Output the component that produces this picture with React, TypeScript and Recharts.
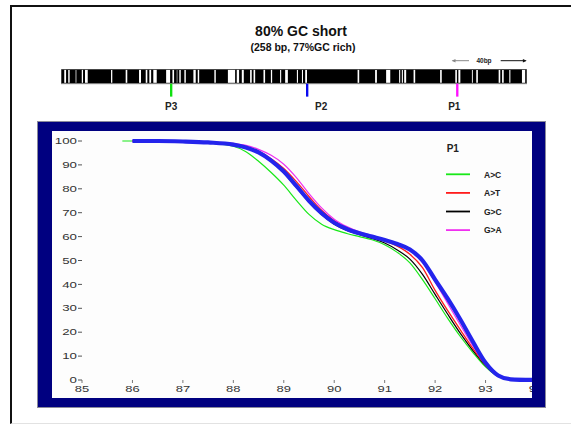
import React from 'react';
import {
  LineChart,
  Line,
  XAxis,
  YAxis,
  ComposedChart,
  ReferenceArea,
} from 'recharts';

// ---------- melting-curve data ----------
const temps = [85.8, 86, 86.5, 87, 87.5, 88, 88.25, 88.5, 88.75, 89, 89.25, 89.5, 89.75, 90, 90.25, 90.5, 90.75, 91, 91.25, 91.5, 91.75, 92, 92.25, 92.5, 92.75, 93, 93.25, 93.5, 94];
const greenAC = [100, 100, 100, 99.6, 99.1, 97.8, 95.5, 91.5, 86.8, 81.5, 75.2, 69.3, 65.2, 62.9, 61.3, 60.0, 58.7, 56.6, 53.4, 49.0, 42.0, 34.0, 25.8, 18.2, 11.5, 5.5, 1.5, 0.3, 0];
const redAT = [null, 100, 100, 99.8, 99.5, 98.8, 97.8, 95.8, 92.6, 88.5, 83.0, 76.8, 71.0, 66.6, 63.6, 61.5, 59.9, 58.2, 56.0, 52.6, 47.0, 37.5, 29.0, 21.0, 13.2, 6.3, 1.8, 0.3, 0];
const blackGC = [null, 100, 100, 99.8, 99.4, 98.5, 97.2, 95.0, 91.4, 86.6, 80.6, 74.4, 69.2, 65.2, 62.6, 60.8, 59.2, 57.3, 54.4, 50.6, 44.2, 35.8, 27.5, 19.5, 12.3, 6.0, 1.6, 0.3, 0];
const magentaGA = [null, 100, 100, 99.8, 99.6, 99.0, 98.2, 96.5, 94.0, 90.3, 84.7, 78.0, 72.0, 67.3, 64.2, 62.0, 60.4, 58.9, 57.0, 54.2, 49.2, 41.0, 32.0, 23.0, 14.2, 6.6, 1.8, 0.3, 0];
const blueWT = [null, 100, 100, 99.8, 99.4, 98.5, 97.3, 95.2, 91.8, 87.2, 81.2, 75.0, 69.8, 65.8, 63.2, 61.4, 60.0, 58.6, 56.9, 54.6, 50.0, 42.0, 34.0, 25.3, 16.0, 7.2, 1.9, 0.3, 0];

const xTicks = [85, 86, 87, 88, 89, 90, 91, 92, 93, 94];
const yTicks = [0, 10, 20, 30, 40, 50, 60, 70, 80, 90, 100];

const legendTitle = 'P1';
const legendItems = [
  { key: 'ac', name: 'A>C', color: '#18e818' },
  { key: 'at', name: 'A>T', color: '#ff1c1c' },
  { key: 'gc', name: 'G>C', color: '#000000' },
  { key: 'ga', name: 'G>A', color: '#f030f0' },
];

// ---------- sequence map data (bp) ----------
const seqLength = 258;
const stripes: [number, number][] = [
  [1.8, 2.8], [4.0, 4.8], [8.1, 8.5], [11.5, 12.2], [13.3, 14.8], [27.7, 28.4], [35.8, 36.7],
  [43.2, 44.3], [46.9, 47.8], [48.9, 49.9], [51.1, 53.0], [58.2, 60.4], [61.7, 62.6], [64.1, 64.4],
  [65.5, 66.3], [68.3, 69.1], [73.3, 74.6], [75.7, 76.5], [84.9, 85.7], [92.4, 96.4], [97.3, 98.6],
  [100.1, 101.2], [104.7, 105.6], [106.6, 107.5], [112.1, 113.0], [116.2, 116.9], [121.3, 121.9],
  [124.1, 125.6], [130.6, 131.2], [133.4, 134.0], [135.2, 136.2], [164.2, 165.1], [173.9, 174.9],
  [180.0, 182.3], [187.2, 187.8], [188.7, 189.3], [190.0, 191.1], [195.2, 196.1], [209.9, 210.8],
  [218.3, 219.2], [220.0, 221.1], [227.5, 228.0], [229.9, 230.8], [242.3, 243.2], [244.2, 245.1],
  [248.2, 248.8], [255.2, 257.0],
];
const primerNames = ['P3', 'P2', 'P1'];
const primerPositions = [61.0, 136.3, 219.4];
const primerColors = ['#10e010', '#0a0af0', '#ff10ff'];
const primerLabelDx = [0, 14, -3];

const title = '80% GC short';
const subtitle = '(258 bp, 77%GC rich)';
const scaleLabel = '40bp';

const data = temps.map((t, i) => ({
  temp: t,
  ac: greenAC[i],
  at: redAT[i],
  gc: blackGC[i],
  ga: magentaGA[i],
  wt: blueWT[i],
}));

const mapData = primerPositions.map((p) => ({ pos: p }));

const FONT = '"Liberation Sans", Arial, Helvetica, sans-serif';

const XTick = (props: any) => {
  const { x, y, payload } = props;
  const s = String(payload.value);
  return (
    <text x={x} y={y} dy="0.71em" textAnchor="middle" fontSize={9} fontFamily={FONT} fill="#333"
      textLength={s.length * 7.2} lengthAdjust="spacingAndGlyphs">{s}</text>
  );
};

const YTick = (props: any) => {
  const { x, y, payload } = props;
  const s = String(payload.value);
  return (
    <text x={x} y={y} dy="0.355em" textAnchor="end" fontSize={9} fontFamily={FONT} fill="#333"
      textLength={s.length * 7.4} lengthAdjust="spacingAndGlyphs">{s}</text>
  );
};

export default function App() {
  return (
    <div style={{ position: 'absolute', left: 0, top: 0, width: 571, height: 425, background: '#fff', overflow: 'hidden', fontFamily: FONT }}>
      {/* outer frame */}
      <div style={{ position: 'absolute', left: 10, top: 5, width: 580, height: 416, borderTop: '2px solid #111', borderLeft: '2px solid #111', borderBottom: '1px solid #e2e2e2' }} />

      {/* titles */}
      <div style={{ position: 'absolute', left: 201, top: 23, width: 200, textAlign: 'center', fontSize: 14, fontWeight: 'bold', color: '#111', lineHeight: '16px' }}>{title}</div>
      <div style={{ position: 'absolute', left: 203, top: 41, width: 200, textAlign: 'center', fontSize: 10.5, fontWeight: 'bold', color: '#111', lineHeight: '12px' }}>{subtitle}</div>

      {/* 40bp scale arrows */}
      <svg style={{ position: 'absolute', left: 445, top: 54 }} width={90} height={14}>
        <line x1={7.5} y1={6.7} x2={24} y2={6.7} stroke="#888" strokeWidth={1} />
        <path d="M6.7,6.7 L10.5,5 L10.5,8.4 Z" fill="#888" />
        <text x={39} y={9} textAnchor="middle" fontSize={6.5} fontWeight="bold" fontFamily={FONT} fill="#222">{scaleLabel}</text>
        <line x1={55.7} y1={6.7} x2={80.5} y2={6.7} stroke="#111" strokeWidth={1} />
        <path d="M81.7,6.7 L77.9,5 L77.9,8.4 Z" fill="#111" />
      </svg>

      {/* sequence map */}
      <div style={{ position: 'absolute', left: 61, top: 69 }}>
        <ComposedChart width={466} height={46} data={mapData} margin={{ top: 0, right: 0, bottom: 0, left: 0 }}>
          <XAxis dataKey="pos" type="number" domain={[0, seqLength]} hide height={0} allowDataOverflow />
          <YAxis type="number" domain={[-2.13, 1]} hide width={0} allowDataOverflow />
          <ReferenceArea x1={0} x2={seqLength} y1={0} y2={1} fill="#000" fillOpacity={1} stroke="#8a8a8a" strokeWidth={1} />
          {stripes.map(([a, b], i) => (
            <ReferenceArea key={'s' + i} x1={a} x2={b} y1={0.06} y2={0.94} fill="#fff" fillOpacity={1} stroke="none" />
          ))}
          {primerPositions.map((p, i) => (
            <ReferenceArea
              key={'p' + i}
              x1={p - 0.65}
              x2={p + 0.65}
              y1={-0.88}
              y2={0}
              fill={primerColors[i]}
              fillOpacity={1}
              stroke="none"
              label={(lp: any) => {
                const vb = lp.viewBox || {};
                return (
                  <text x={(vb.x || 0) + (vb.width || 0) / 2 + primerLabelDx[i]} y={(vb.y || 0) + (vb.height || 0) + 13}
                    textAnchor="middle" fontSize={10} fontWeight="bold" fontFamily={FONT} fill="#222">{primerNames[i]}</text>
                );
              }}
            />
          ))}
        </ComposedChart>
      </div>

      {/* navy frame */}
      <div style={{ position: 'absolute', left: 38, top: 122, width: 507, height: 285, background: '#000080', boxShadow: '0 0 0 1px #8a8a9a' }} />

      {/* plot area */}
      <div style={{ position: 'absolute', left: 52, top: 131, width: 480, height: 267, overflow: 'hidden', background: '#fdfdfd' }}>
        <LineChart width={490} height={267} data={data} margin={{ top: 10, right: 6, bottom: 0, left: 0 }}>
          <XAxis dataKey="temp" type="number" domain={[85, 94]} ticks={xTicks} axisLine={false}
            tickLine={{ stroke: '#777' }} tickSize={3} tickMargin={3} height={18} tick={<XTick />} interval={0} allowDataOverflow />
          <YAxis type="number" domain={[0, 100]} ticks={yTicks} axisLine={false}
            tickLine={{ stroke: '#555' }} tickSize={4} tickMargin={1} width={30} tick={<YTick />} interval={0} />
          <Line type="monotone" dataKey="ac" stroke={legendItems[0].color} strokeWidth={1.2} dot={false} isAnimationActive={false} connectNulls />
          <Line type="monotone" dataKey="gc" stroke={legendItems[2].color} strokeWidth={1.2} dot={false} isAnimationActive={false} connectNulls />
          <Line type="monotone" dataKey="at" stroke={legendItems[1].color} strokeWidth={1.3} dot={false} isAnimationActive={false} connectNulls />
          <Line type="monotone" dataKey="ga" stroke={legendItems[3].color} strokeWidth={1.2} dot={false} isAnimationActive={false} connectNulls />
          <Line type="monotone" dataKey="wt" stroke="#2424ec" strokeWidth={4.2} dot={false} isAnimationActive={false} connectNulls />
        </LineChart>
      </div>

      {/* legend */}
      <svg style={{ position: 'absolute', left: 440, top: 138 }} width={90} height={100}>
        <text x={6.7} y={14} fontSize={10} fontWeight="bold" fontFamily={FONT} fill="#222">{legendTitle}</text>
        {legendItems.map((it, i) => (
          <g key={it.key}>
            <line x1={6} x2={30} y1={36.3 + i * 18.6} y2={36.3 + i * 18.6} stroke={it.color} strokeWidth={1.8} />
            <text x={44} y={39.5 + i * 18.6} fontSize={8.5} fontWeight="bold" fontFamily={FONT} fill="#222">{it.name}</text>
          </g>
        ))}
      </svg>
    </div>
  );
}
